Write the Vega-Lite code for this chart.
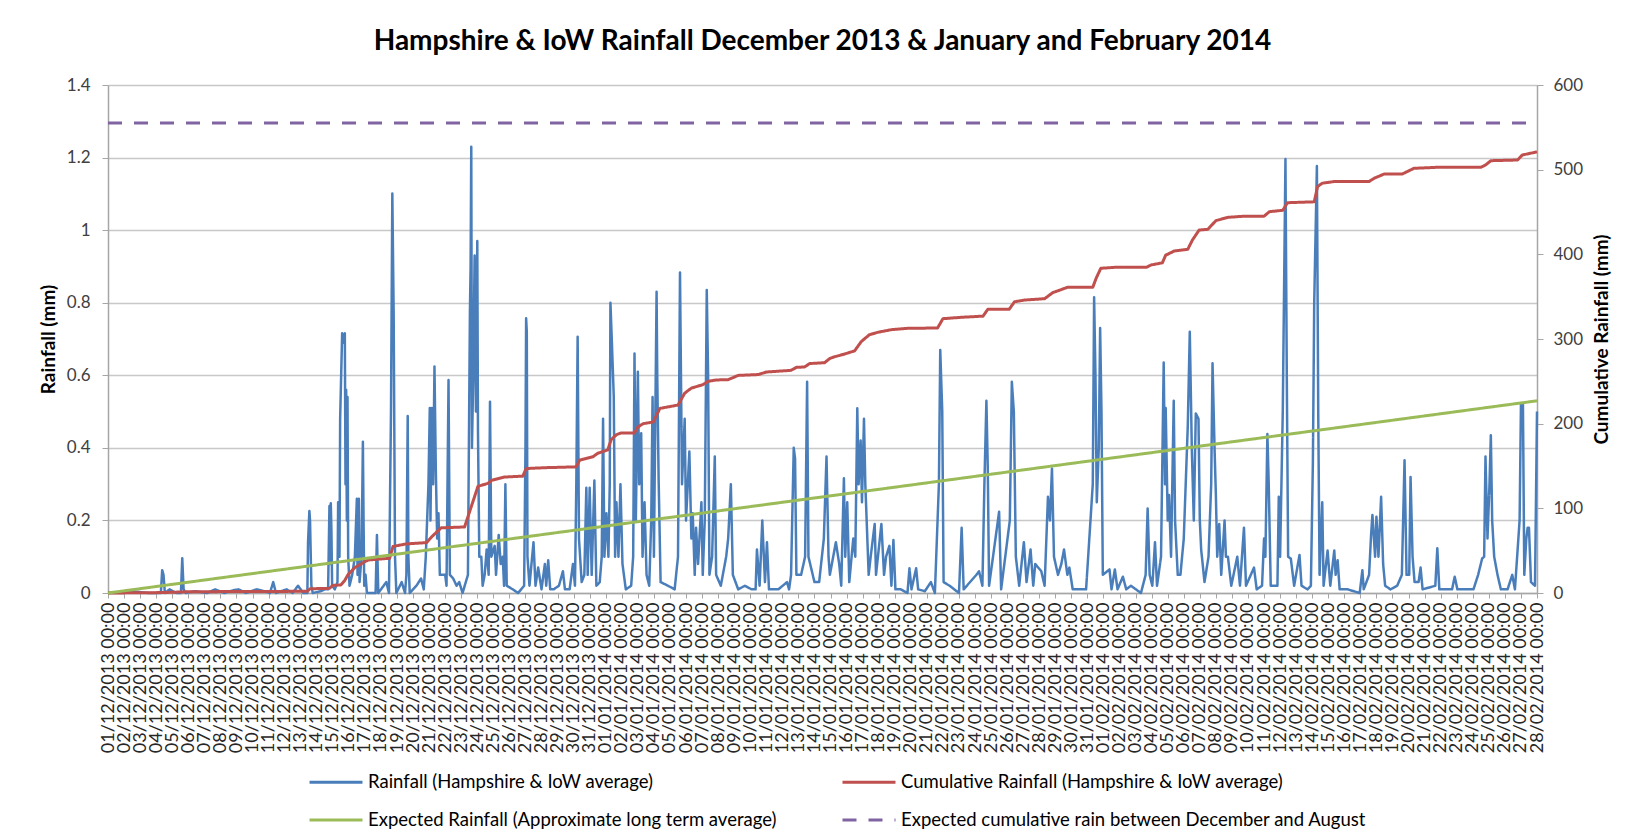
{
"$schema": "https://vega.github.io/schema/vega-lite/v6.json",
"autosize": "none",
"width": 1429,
"height": 508,
"padding": {"left": 108, "top": 85, "right": 101, "bottom": 247},
"background": "white",
"config": {
  "font": "Lato",
  "view": {"stroke": null},
  "legend": {"orient": "none", "legendX": 200, "legendY": 669, "columns": 2, "symbolType": "stroke", "symbolSize": 2809, "symbolStrokeWidth": 3, "labelFontSize": 18.5, "labelFont": "Lato", "labelColor": "#000000", "columnPadding": 59, "rowPadding": -17, "labelLimit": 0, "labelOffset": 4}
},
"title": {"text": "Hampshire & IoW Rainfall December 2013 & January and February 2014", "fontSize": 28, "fontWeight": "bold", "font": "Lato", "color": "#000000", "anchor": "middle", "offset": 20},
"datasets": {
"rain": [
{"t":"2013-12-01T00:00","v":0},{"t":"2013-12-02T12:00","v":0.005},{"t":"2013-12-03T12:00","v":0},{"t":"2013-12-04T07:00","v":0},{"t":"2013-12-04T09:00","v":0.063},{"t":"2013-12-04T11:00","v":0.05},{"t":"2013-12-04T13:00","v":0},{"t":"2013-12-04T20:00","v":0.01},{"t":"2013-12-05T06:00","v":0},{"t":"2013-12-05T13:00","v":0},{"t":"2013-12-05T15:00","v":0.096},{"t":"2013-12-05T17:00","v":0.01},{"t":"2013-12-05T20:00","v":0},{"t":"2013-12-06T10:00","v":0.005},{"t":"2013-12-07T04:00","v":0},{"t":"2013-12-07T16:00","v":0.01},{"t":"2013-12-08T06:00","v":0},{"t":"2013-12-08T20:00","v":0.008},{"t":"2013-12-09T03:00","v":0.01},{"t":"2013-12-09T14:00","v":0},{"t":"2013-12-10T06:00","v":0.01},{"t":"2013-12-10T18:00","v":0.005},{"t":"2013-12-11T02:00","v":0},{"t":"2013-12-11T07:00","v":0.03},{"t":"2013-12-11T11:00","v":0},{"t":"2013-12-12T03:00","v":0.01},{"t":"2013-12-12T12:00","v":0},{"t":"2013-12-12T20:00","v":0.02},{"t":"2013-12-13T04:00","v":0},{"t":"2013-12-13T10:00","v":0},{"t":"2013-12-13T11:00","v":0.14},{"t":"2013-12-13T13:00","v":0.226},{"t":"2013-12-13T14:00","v":0.2},{"t":"2013-12-13T16:00","v":0.02},{"t":"2013-12-13T18:00","v":0},{"t":"2013-12-14T06:00","v":0.005},{"t":"2013-12-14T12:00","v":0.01},{"t":"2013-12-14T17:00","v":0.01},{"t":"2013-12-14T19:00","v":0.24},{"t":"2013-12-14T20:00","v":0.08},{"t":"2013-12-14T21:00","v":0.247},{"t":"2013-12-14T22:00","v":0.17},{"t":"2013-12-14T23:00","v":0.02},{"t":"2013-12-15T03:00","v":0.01},{"t":"2013-12-15T07:00","v":0.03},{"t":"2013-12-15T08:00","v":0.25},{"t":"2013-12-15T10:00","v":0.1},{"t":"2013-12-15T11:00","v":0.48},{"t":"2013-12-15T14:00","v":0.716},{"t":"2013-12-15T16:00","v":0.69},{"t":"2013-12-15T18:00","v":0.716},{"t":"2013-12-15T19:00","v":0.3},{"t":"2013-12-15T20:00","v":0.56},{"t":"2013-12-15T21:00","v":0.2},{"t":"2013-12-15T22:00","v":0.54},{"t":"2013-12-15T23:00","v":0.1},{"t":"2013-12-16T01:00","v":0.02},{"t":"2013-12-16T05:00","v":0.05},{"t":"2013-12-16T09:00","v":0.1},{"t":"2013-12-16T12:00","v":0.26},{"t":"2013-12-16T13:00","v":0.05},{"t":"2013-12-16T15:00","v":0.26},{"t":"2013-12-16T16:00","v":0.03},{"t":"2013-12-16T19:00","v":0.1},{"t":"2013-12-16T21:00","v":0.417},{"t":"2013-12-16T22:00","v":0.2},{"t":"2013-12-16T23:00","v":0.02},{"t":"2013-12-17T01:00","v":0.05},{"t":"2013-12-17T03:00","v":0},{"t":"2013-12-17T16:00","v":0},{"t":"2013-12-17T18:00","v":0.16},{"t":"2013-12-17T20:00","v":0},{"t":"2013-12-18T08:00","v":0.03},{"t":"2013-12-18T12:00","v":0},{"t":"2013-12-18T15:00","v":0.5},{"t":"2013-12-18T17:00","v":1.101},{"t":"2013-12-18T19:00","v":0.77},{"t":"2013-12-18T21:00","v":0.1},{"t":"2013-12-18T23:00","v":0},{"t":"2013-12-19T07:00","v":0.03},{"t":"2013-12-19T12:00","v":0},{"t":"2013-12-19T14:00","v":0.05},{"t":"2013-12-19T16:00","v":0.488},{"t":"2013-12-19T17:00","v":0.1},{"t":"2013-12-19T19:00","v":0},{"t":"2013-12-20T05:00","v":0.02},{"t":"2013-12-20T12:00","v":0.04},{"t":"2013-12-20T16:00","v":0.01},{"t":"2013-12-20T19:00","v":0.1},{"t":"2013-12-20T23:00","v":0.3},{"t":"2013-12-21T01:00","v":0.51},{"t":"2013-12-21T02:00","v":0.2},{"t":"2013-12-21T04:00","v":0.51},{"t":"2013-12-21T06:00","v":0.3},{"t":"2013-12-21T08:00","v":0.624},{"t":"2013-12-21T10:00","v":0.34},{"t":"2013-12-21T12:00","v":0.15},{"t":"2013-12-21T14:00","v":0.22},{"t":"2013-12-21T16:00","v":0.05},{"t":"2013-12-22T00:00","v":0.05},{"t":"2013-12-22T02:00","v":0.02},{"t":"2013-12-22T05:00","v":0.587},{"t":"2013-12-22T07:00","v":0.05},{"t":"2013-12-22T12:00","v":0.04},{"t":"2013-12-22T17:00","v":0.02},{"t":"2013-12-22T21:00","v":0.03},{"t":"2013-12-23T02:00","v":0},{"t":"2013-12-23T10:00","v":0.05},{"t":"2013-12-23T11:00","v":0.3},{"t":"2013-12-23T13:00","v":0.78},{"t":"2013-12-23T14:00","v":0.9},{"t":"2013-12-23T15:00","v":1.23},{"t":"2013-12-23T16:00","v":0.4},{"t":"2013-12-23T18:00","v":0.6},{"t":"2013-12-23T20:00","v":0.93},{"t":"2013-12-23T22:00","v":0.5},{"t":"2013-12-24T00:00","v":0.97},{"t":"2013-12-24T01:00","v":0.45},{"t":"2013-12-24T03:00","v":0.1},{"t":"2013-12-24T06:00","v":0.1},{"t":"2013-12-24T08:00","v":0.02},{"t":"2013-12-24T11:00","v":0.05},{"t":"2013-12-24T14:00","v":0.12},{"t":"2013-12-24T17:00","v":0.05},{"t":"2013-12-24T19:00","v":0.527},{"t":"2013-12-24T21:00","v":0.1},{"t":"2013-12-25T02:00","v":0.13},{"t":"2013-12-25T04:00","v":0.05},{"t":"2013-12-25T08:00","v":0.16},{"t":"2013-12-25T11:00","v":0.08},{"t":"2013-12-25T14:00","v":0.1},{"t":"2013-12-25T16:00","v":0.02},{"t":"2013-12-25T18:00","v":0.3},{"t":"2013-12-25T20:00","v":0.02},{"t":"2013-12-26T05:00","v":0.01},{"t":"2013-12-26T13:00","v":0},{"t":"2013-12-26T22:00","v":0.02},{"t":"2013-12-27T00:00","v":0.4},{"t":"2013-12-27T01:00","v":0.757},{"t":"2013-12-27T02:00","v":0.72},{"t":"2013-12-27T03:00","v":0.1},{"t":"2013-12-27T06:00","v":0.02},{"t":"2013-12-27T12:00","v":0.14},{"t":"2013-12-27T15:00","v":0.02},{"t":"2013-12-27T19:00","v":0.07},{"t":"2013-12-28T00:00","v":0.01},{"t":"2013-12-28T05:00","v":0.08},{"t":"2013-12-28T07:00","v":0.02},{"t":"2013-12-28T10:00","v":0.09},{"t":"2013-12-28T13:00","v":0.01},{"t":"2013-12-28T18:00","v":0.01},{"t":"2013-12-29T02:00","v":0.02},{"t":"2013-12-29T08:00","v":0.06},{"t":"2013-12-29T11:00","v":0.01},{"t":"2013-12-29T18:00","v":0.01},{"t":"2013-12-29T23:00","v":0.08},{"t":"2013-12-30T02:00","v":0.02},{"t":"2013-12-30T04:00","v":0.3},{"t":"2013-12-30T06:00","v":0.706},{"t":"2013-12-30T08:00","v":0.15},{"t":"2013-12-30T12:00","v":0.03},{"t":"2013-12-30T16:00","v":0.05},{"t":"2013-12-30T19:00","v":0.29},{"t":"2013-12-30T21:00","v":0.05},{"t":"2013-12-31T00:00","v":0.29},{"t":"2013-12-31T03:00","v":0.05},{"t":"2013-12-31T07:00","v":0.31},{"t":"2013-12-31T10:00","v":0.02},{"t":"2013-12-31T15:00","v":0.03},{"t":"2013-12-31T18:00","v":0.1},{"t":"2013-12-31T20:00","v":0.48},{"t":"2013-12-31T22:00","v":0.1},
{"t":"2014-01-01T01:00","v":0.22},{"t":"2014-01-01T04:00","v":0.1},{"t":"2014-01-01T06:00","v":0.3},{"t":"2014-01-01T07:00","v":0.8},{"t":"2014-01-01T09:00","v":0.7},{"t":"2014-01-01T12:00","v":0.54},{"t":"2014-01-01T14:00","v":0.1},{"t":"2014-01-01T16:00","v":0.25},{"t":"2014-01-01T19:00","v":0.1},{"t":"2014-01-01T22:00","v":0.3},{"t":"2014-01-02T01:00","v":0.08},{"t":"2014-01-02T06:00","v":0.01},{"t":"2014-01-02T14:00","v":0.02},{"t":"2014-01-02T17:00","v":0.1},{"t":"2014-01-02T19:00","v":0.66},{"t":"2014-01-02T21:00","v":0.2},{"t":"2014-01-03T00:00","v":0.61},{"t":"2014-01-03T02:00","v":0.3},{"t":"2014-01-03T05:00","v":0.44},{"t":"2014-01-03T07:00","v":0.1},{"t":"2014-01-03T10:00","v":0.25},{"t":"2014-01-03T13:00","v":0.05},{"t":"2014-01-03T17:00","v":0.02},{"t":"2014-01-03T20:00","v":0.2},{"t":"2014-01-03T22:00","v":0.54},{"t":"2014-01-04T00:00","v":0.1},{"t":"2014-01-04T04:00","v":0.83},{"t":"2014-01-04T05:00","v":0.6},{"t":"2014-01-04T07:00","v":0.32},{"t":"2014-01-04T10:00","v":0.03},{"t":"2014-01-04T21:00","v":0.02},{"t":"2014-01-05T07:00","v":0.01},{"t":"2014-01-05T12:00","v":0.1},{"t":"2014-01-05T15:00","v":0.883},{"t":"2014-01-05T18:00","v":0.3},{"t":"2014-01-05T22:00","v":0.48},{"t":"2014-01-06T00:00","v":0.2},{"t":"2014-01-06T05:00","v":0.39},{"t":"2014-01-06T08:00","v":0.15},{"t":"2014-01-06T10:00","v":0.22},{"t":"2014-01-06T13:00","v":0.05},{"t":"2014-01-06T15:00","v":0.18},{"t":"2014-01-06T18:00","v":0.08},{"t":"2014-01-06T23:00","v":0.25},{"t":"2014-01-07T01:00","v":0.05},{"t":"2014-01-07T04:00","v":0.2},{"t":"2014-01-07T07:00","v":0.835},{"t":"2014-01-07T09:00","v":0.6},{"t":"2014-01-07T11:00","v":0.05},{"t":"2014-01-07T15:00","v":0.1},{"t":"2014-01-07T19:00","v":0.376},{"t":"2014-01-07T21:00","v":0.05},{"t":"2014-01-08T04:00","v":0.02},{"t":"2014-01-08T12:00","v":0.1},{"t":"2014-01-08T15:00","v":0.15},{"t":"2014-01-08T19:00","v":0.3},{"t":"2014-01-08T22:00","v":0.05},{"t":"2014-01-09T06:00","v":0.01},{"t":"2014-01-09T16:00","v":0.02},{"t":"2014-01-10T02:00","v":0.01},{"t":"2014-01-10T08:00","v":0.01},{"t":"2014-01-10T10:00","v":0.12},{"t":"2014-01-10T14:00","v":0.02},{"t":"2014-01-10T18:00","v":0.2},{"t":"2014-01-10T22:00","v":0.03},{"t":"2014-01-11T01:00","v":0.14},{"t":"2014-01-11T04:00","v":0.01},{"t":"2014-01-11T18:00","v":0.01},{"t":"2014-01-12T07:00","v":0.03},{"t":"2014-01-12T10:00","v":0.01},{"t":"2014-01-12T13:00","v":0.05},{"t":"2014-01-12T17:00","v":0.4},{"t":"2014-01-12T19:00","v":0.37},{"t":"2014-01-12T21:00","v":0.05},{"t":"2014-01-13T04:00","v":0.05},{"t":"2014-01-13T10:00","v":0.1},{"t":"2014-01-13T13:00","v":0.582},{"t":"2014-01-13T15:00","v":0.1},{"t":"2014-01-14T00:00","v":0.03},{"t":"2014-01-14T07:00","v":0.03},{"t":"2014-01-14T14:00","v":0.15},{"t":"2014-01-14T18:00","v":0.376},{"t":"2014-01-14T21:00","v":0.1},{"t":"2014-01-14T23:00","v":0.05},{"t":"2014-01-15T04:00","v":0.1},{"t":"2014-01-15T08:00","v":0.14},{"t":"2014-01-15T13:00","v":0.08},{"t":"2014-01-15T16:00","v":0.02},{"t":"2014-01-15T20:00","v":0.316},{"t":"2014-01-15T22:00","v":0.1},{"t":"2014-01-16T01:00","v":0.25},{"t":"2014-01-16T04:00","v":0.03},{"t":"2014-01-16T10:00","v":0.15},{"t":"2014-01-16T13:00","v":0.1},{"t":"2014-01-16T16:00","v":0.509},{"t":"2014-01-16T18:00","v":0.3},{"t":"2014-01-16T21:00","v":0.42},{"t":"2014-01-16T23:00","v":0.25},{"t":"2014-01-17T02:00","v":0.48},{"t":"2014-01-17T04:00","v":0.3},{"t":"2014-01-17T06:00","v":0.2},{"t":"2014-01-17T09:00","v":0.05},{"t":"2014-01-17T12:00","v":0.1},{"t":"2014-01-17T18:00","v":0.19},{"t":"2014-01-17T20:00","v":0.05},{"t":"2014-01-18T00:00","v":0.12},{"t":"2014-01-18T04:00","v":0.19},{"t":"2014-01-18T08:00","v":0.05},{"t":"2014-01-18T11:00","v":0.1},{"t":"2014-01-18T16:00","v":0.13},{"t":"2014-01-18T19:00","v":0.02},{"t":"2014-01-18T22:00","v":0.146},{"t":"2014-01-19T01:00","v":0.01},{"t":"2014-01-19T09:00","v":0.01},{"t":"2014-01-19T19:00","v":0},{"t":"2014-01-19T22:00","v":0.068},{"t":"2014-01-20T01:00","v":0.01},{"t":"2014-01-20T08:00","v":0.068},{"t":"2014-01-20T11:00","v":0.01},{"t":"2014-01-20T21:00","v":0.005},{"t":"2014-01-21T06:00","v":0.03},{"t":"2014-01-21T12:00","v":0},{"t":"2014-01-21T18:00","v":0.3},{"t":"2014-01-21T20:00","v":0.67},{"t":"2014-01-21T23:00","v":0.5},{"t":"2014-01-22T01:00","v":0.03},{"t":"2014-01-22T10:00","v":0.02},{"t":"2014-01-23T00:00","v":0},{"t":"2014-01-23T04:00","v":0.18},{"t":"2014-01-23T07:00","v":0.01},{"t":"2014-01-24T02:00","v":0.05},{"t":"2014-01-24T06:00","v":0.06},{"t":"2014-01-24T11:00","v":0.02},{"t":"2014-01-24T14:00","v":0.3},{"t":"2014-01-24T17:00","v":0.53},{"t":"2014-01-24T19:00","v":0.35},{"t":"2014-01-24T21:00","v":0.02},{"t":"2014-01-25T12:00","v":0.224},{"t":"2014-01-25T15:00","v":0.01},{"t":"2014-01-26T04:00","v":0.2},{"t":"2014-01-26T07:00","v":0.582},{"t":"2014-01-26T10:00","v":0.5},{"t":"2014-01-26T13:00","v":0.1},{"t":"2014-01-26T18:00","v":0.02},{"t":"2014-01-27T01:00","v":0.14},{"t":"2014-01-27T05:00","v":0.03},{"t":"2014-01-27T11:00","v":0.12},{"t":"2014-01-27T15:00","v":0.02},{"t":"2014-01-27T18:00","v":0.08},{"t":"2014-01-28T03:00","v":0.06},{"t":"2014-01-28T08:00","v":0.02},{"t":"2014-01-28T13:00","v":0.265},{"t":"2014-01-28T16:00","v":0.2},{"t":"2014-01-28T19:00","v":0.343},{"t":"2014-01-28T22:00","v":0.1},{"t":"2014-01-29T04:00","v":0.05},{"t":"2014-01-29T09:00","v":0.08},{"t":"2014-01-29T13:00","v":0.12},{"t":"2014-01-29T18:00","v":0.05},{"t":"2014-01-29T21:00","v":0.07},{"t":"2014-01-30T02:00","v":0.01},{"t":"2014-01-30T12:00","v":0.01},{"t":"2014-01-30T22:00","v":0.01},{"t":"2014-01-31T08:00","v":0.3},{"t":"2014-01-31T10:00","v":0.815},{"t":"2014-01-31T12:00","v":0.6},{"t":"2014-01-31T14:00","v":0.25},{"t":"2014-01-31T17:00","v":0.4},{"t":"2014-01-31T19:00","v":0.73},{"t":"2014-01-31T21:00","v":0.5},{"t":"2014-01-31T23:00","v":0.05},
{"t":"2014-02-01T09:00","v":0.065},{"t":"2014-02-01T12:00","v":0.01},{"t":"2014-02-01T17:00","v":0.065},{"t":"2014-02-01T21:00","v":0.01},{"t":"2014-02-02T05:00","v":0.045},{"t":"2014-02-02T10:00","v":0.01},{"t":"2014-02-02T17:00","v":0.02},{"t":"2014-02-03T08:00","v":0},{"t":"2014-02-03T15:00","v":0.05},{"t":"2014-02-03T18:00","v":0.233},{"t":"2014-02-03T21:00","v":0.05},{"t":"2014-02-04T01:00","v":0.02},{"t":"2014-02-04T05:00","v":0.14},{"t":"2014-02-04T08:00","v":0.02},{"t":"2014-02-04T14:00","v":0.1},{"t":"2014-02-04T18:00","v":0.635},{"t":"2014-02-04T20:00","v":0.3},{"t":"2014-02-04T21:00","v":0.51},{"t":"2014-02-05T00:00","v":0.2},{"t":"2014-02-05T02:00","v":0.27},{"t":"2014-02-05T05:00","v":0.1},{"t":"2014-02-05T09:00","v":0.53},{"t":"2014-02-05T11:00","v":0.2},{"t":"2014-02-05T15:00","v":0.05},{"t":"2014-02-05T19:00","v":0.05},{"t":"2014-02-06T00:00","v":0.15},{"t":"2014-02-06T06:00","v":0.46},{"t":"2014-02-06T09:00","v":0.72},{"t":"2014-02-06T12:00","v":0.4},{"t":"2014-02-06T15:00","v":0.2},{"t":"2014-02-06T18:00","v":0.495},{"t":"2014-02-06T22:00","v":0.48},{"t":"2014-02-07T00:00","v":0.2},{"t":"2014-02-07T02:00","v":0.12},{"t":"2014-02-07T07:00","v":0.03},{"t":"2014-02-07T13:00","v":0.1},{"t":"2014-02-07T17:00","v":0.3},{"t":"2014-02-07T19:00","v":0.633},{"t":"2014-02-07T22:00","v":0.4},{"t":"2014-02-08T00:00","v":0.27},{"t":"2014-02-08T02:00","v":0.1},{"t":"2014-02-08T05:00","v":0.19},{"t":"2014-02-08T08:00","v":0.05},{"t":"2014-02-08T13:00","v":0.2},{"t":"2014-02-08T15:00","v":0.1},{"t":"2014-02-08T18:00","v":0.1},{"t":"2014-02-08T23:00","v":0.02},{"t":"2014-02-09T08:00","v":0.1},{"t":"2014-02-09T12:00","v":0.02},{"t":"2014-02-09T18:00","v":0.18},{"t":"2014-02-09T21:00","v":0.02},{"t":"2014-02-10T09:00","v":0.07},{"t":"2014-02-10T13:00","v":0.01},{"t":"2014-02-10T21:00","v":0.02},{"t":"2014-02-11T00:00","v":0.15},{"t":"2014-02-11T02:00","v":0.1},{"t":"2014-02-11T05:00","v":0.438},{"t":"2014-02-11T07:00","v":0.3},{"t":"2014-02-11T10:00","v":0.02},{"t":"2014-02-11T20:00","v":0.02},{"t":"2014-02-11T22:00","v":0.265},{"t":"2014-02-12T00:00","v":0.1},{"t":"2014-02-12T04:00","v":0.5},{"t":"2014-02-12T08:00","v":1.196},{"t":"2014-02-12T10:00","v":0.6},{"t":"2014-02-12T12:00","v":0.1},{"t":"2014-02-12T16:00","v":0.095},{"t":"2014-02-12T21:00","v":0.02},{"t":"2014-02-13T05:00","v":0.105},{"t":"2014-02-13T08:00","v":0.02},{"t":"2014-02-13T17:00","v":0.01},{"t":"2014-02-13T22:00","v":0.02},{"t":"2014-02-14T01:00","v":0.36},{"t":"2014-02-14T03:00","v":0.8},{"t":"2014-02-14T07:00","v":1.177},{"t":"2014-02-14T09:00","v":0.5},{"t":"2014-02-14T11:00","v":0.05},{"t":"2014-02-14T15:00","v":0.25},{"t":"2014-02-14T17:00","v":0.02},{"t":"2014-02-14T23:00","v":0.117},{"t":"2014-02-15T03:00","v":0.02},{"t":"2014-02-15T09:00","v":0.117},{"t":"2014-02-15T11:00","v":0.05},{"t":"2014-02-15T14:00","v":0.09},{"t":"2014-02-15T17:00","v":0.01},{"t":"2014-02-16T05:00","v":0.01},{"t":"2014-02-16T23:00","v":0},{"t":"2014-02-17T03:00","v":0.063},{"t":"2014-02-17T05:00","v":0.01},{"t":"2014-02-17T13:00","v":0.05},{"t":"2014-02-17T16:00","v":0.16},{"t":"2014-02-17T18:00","v":0.215},{"t":"2014-02-17T22:00","v":0.1},{"t":"2014-02-18T00:00","v":0.21},{"t":"2014-02-18T03:00","v":0.1},{"t":"2014-02-18T07:00","v":0.265},{"t":"2014-02-18T10:00","v":0.08},{"t":"2014-02-18T13:00","v":0.02},{"t":"2014-02-18T21:00","v":0.01},{"t":"2014-02-19T07:00","v":0.02},{"t":"2014-02-19T14:00","v":0.05},{"t":"2014-02-19T18:00","v":0.366},{"t":"2014-02-19T21:00","v":0.05},{"t":"2014-02-20T01:00","v":0.05},{"t":"2014-02-20T03:00","v":0.32},{"t":"2014-02-20T06:00","v":0.1},{"t":"2014-02-20T09:00","v":0.03},{"t":"2014-02-20T15:00","v":0.03},{"t":"2014-02-20T18:00","v":0.07},{"t":"2014-02-20T21:00","v":0.01},{"t":"2014-02-21T16:00","v":0.02},{"t":"2014-02-21T19:00","v":0.123},{"t":"2014-02-21T22:00","v":0.01},{"t":"2014-02-22T17:00","v":0.01},{"t":"2014-02-22T21:00","v":0.045},{"t":"2014-02-23T01:00","v":0.01},{"t":"2014-02-24T01:00","v":0.01},{"t":"2014-02-24T08:00","v":0.05},{"t":"2014-02-24T14:00","v":0.095},{"t":"2014-02-24T17:00","v":0.1},{"t":"2014-02-24T19:00","v":0.376},{"t":"2014-02-24T22:00","v":0.15},{"t":"2014-02-25T01:00","v":0.3},{"t":"2014-02-25T03:00","v":0.435},{"t":"2014-02-25T05:00","v":0.2},{"t":"2014-02-25T08:00","v":0.1},{"t":"2014-02-25T13:00","v":0.05},{"t":"2014-02-25T18:00","v":0.01},{"t":"2014-02-26T04:00","v":0.01},{"t":"2014-02-26T11:00","v":0.05},{"t":"2014-02-26T15:00","v":0.01},{"t":"2014-02-26T22:00","v":0.2},{"t":"2014-02-27T00:00","v":0.52},{"t":"2014-02-27T03:00","v":0.52},{"t":"2014-02-27T05:00","v":0.05},{"t":"2014-02-27T08:00","v":0.15},{"t":"2014-02-27T10:00","v":0.18},{"t":"2014-02-27T12:00","v":0.18},{"t":"2014-02-27T15:00","v":0.03},{"t":"2014-02-27T21:00","v":0.02},{"t":"2014-02-28T00:00","v":0.5}
],
"cum": [
{"s":"Cumulative Rainfall (Hampshire & IoW average)","t":"2013-12-01T00:00","v":0},{"s":"Cumulative Rainfall (Hampshire & IoW average)","t":"2013-12-04T10:00","v":0.5},{"s":"Cumulative Rainfall (Hampshire & IoW average)","t":"2013-12-06T00:00","v":1.5},{"s":"Cumulative Rainfall (Hampshire & IoW average)","t":"2013-12-13T10:00","v":2},{"s":"Cumulative Rainfall (Hampshire & IoW average)","t":"2013-12-13T14:00","v":5},{"s":"Cumulative Rainfall (Hampshire & IoW average)","t":"2013-12-14T19:00","v":5.5},{"s":"Cumulative Rainfall (Hampshire & IoW average)","t":"2013-12-15T00:00","v":9},{"s":"Cumulative Rainfall (Hampshire & IoW average)","t":"2013-12-15T12:00","v":9.5},{"s":"Cumulative Rainfall (Hampshire & IoW average)","t":"2013-12-15T18:00","v":15},{"s":"Cumulative Rainfall (Hampshire & IoW average)","t":"2013-12-15T23:00","v":22},{"s":"Cumulative Rainfall (Hampshire & IoW average)","t":"2013-12-16T09:00","v":30},{"s":"Cumulative Rainfall (Hampshire & IoW average)","t":"2013-12-17T00:00","v":37},{"s":"Cumulative Rainfall (Hampshire & IoW average)","t":"2013-12-17T05:00","v":39},{"s":"Cumulative Rainfall (Hampshire & IoW average)","t":"2013-12-18T13:00","v":41},{"s":"Cumulative Rainfall (Hampshire & IoW average)","t":"2013-12-18T18:00","v":55},{"s":"Cumulative Rainfall (Hampshire & IoW average)","t":"2013-12-19T14:00","v":58},{"s":"Cumulative Rainfall (Hampshire & IoW average)","t":"2013-12-20T20:00","v":59.5},{"s":"Cumulative Rainfall (Hampshire & IoW average)","t":"2013-12-21T04:00","v":66.5},{"s":"Cumulative Rainfall (Hampshire & IoW average)","t":"2013-12-21T18:00","v":77},{"s":"Cumulative Rainfall (Hampshire & IoW average)","t":"2013-12-23T05:00","v":78},{"s":"Cumulative Rainfall (Hampshire & IoW average)","t":"2013-12-23T10:00","v":90},{"s":"Cumulative Rainfall (Hampshire & IoW average)","t":"2013-12-24T01:00","v":126},{"s":"Cumulative Rainfall (Hampshire & IoW average)","t":"2013-12-24T16:00","v":129.5},{"s":"Cumulative Rainfall (Hampshire & IoW average)","t":"2013-12-24T21:00","v":133},{"s":"Cumulative Rainfall (Hampshire & IoW average)","t":"2013-12-25T17:00","v":137},{"s":"Cumulative Rainfall (Hampshire & IoW average)","t":"2013-12-26T20:00","v":138},{"s":"Cumulative Rainfall (Hampshire & IoW average)","t":"2013-12-27T01:00","v":147},{"s":"Cumulative Rainfall (Hampshire & IoW average)","t":"2013-12-28T05:00","v":148},{"s":"Cumulative Rainfall (Hampshire & IoW average)","t":"2013-12-30T04:00","v":149},{"s":"Cumulative Rainfall (Hampshire & IoW average)","t":"2013-12-30T09:00","v":157},{"s":"Cumulative Rainfall (Hampshire & IoW average)","t":"2013-12-31T05:00","v":161},{"s":"Cumulative Rainfall (Hampshire & IoW average)","t":"2013-12-31T12:00","v":165},{"s":"Cumulative Rainfall (Hampshire & IoW average)","t":"2014-01-01T03:00","v":169},{"s":"Cumulative Rainfall (Hampshire & IoW average)","t":"2014-01-01T08:00","v":181},{"s":"Cumulative Rainfall (Hampshire & IoW average)","t":"2014-01-01T16:00","v":187},{"s":"Cumulative Rainfall (Hampshire & IoW average)","t":"2014-01-01T23:00","v":189},{"s":"Cumulative Rainfall (Hampshire & IoW average)","t":"2014-01-02T19:00","v":189},{"s":"Cumulative Rainfall (Hampshire & IoW average)","t":"2014-01-03T00:00","v":196},{"s":"Cumulative Rainfall (Hampshire & IoW average)","t":"2014-01-03T08:00","v":200},{"s":"Cumulative Rainfall (Hampshire & IoW average)","t":"2014-01-03T23:00","v":202},{"s":"Cumulative Rainfall (Hampshire & IoW average)","t":"2014-01-04T09:00","v":218},{"s":"Cumulative Rainfall (Hampshire & IoW average)","t":"2014-01-05T12:00","v":222},{"s":"Cumulative Rainfall (Hampshire & IoW average)","t":"2014-01-05T22:00","v":236},{"s":"Cumulative Rainfall (Hampshire & IoW average)","t":"2014-01-06T08:00","v":242},{"s":"Cumulative Rainfall (Hampshire & IoW average)","t":"2014-01-07T01:00","v":246},{"s":"Cumulative Rainfall (Hampshire & IoW average)","t":"2014-01-07T09:00","v":250},{"s":"Cumulative Rainfall (Hampshire & IoW average)","t":"2014-01-07T21:00","v":251.6},{"s":"Cumulative Rainfall (Hampshire & IoW average)","t":"2014-01-08T15:00","v":252},{"s":"Cumulative Rainfall (Hampshire & IoW average)","t":"2014-01-09T06:00","v":257},{"s":"Cumulative Rainfall (Hampshire & IoW average)","t":"2014-01-10T12:00","v":258},{"s":"Cumulative Rainfall (Hampshire & IoW average)","t":"2014-01-11T00:00","v":261},{"s":"Cumulative Rainfall (Hampshire & IoW average)","t":"2014-01-12T13:00","v":263},{"s":"Cumulative Rainfall (Hampshire & IoW average)","t":"2014-01-12T21:00","v":266.5},{"s":"Cumulative Rainfall (Hampshire & IoW average)","t":"2014-01-13T09:00","v":267},{"s":"Cumulative Rainfall (Hampshire & IoW average)","t":"2014-01-13T17:00","v":271},{"s":"Cumulative Rainfall (Hampshire & IoW average)","t":"2014-01-14T15:00","v":272},{"s":"Cumulative Rainfall (Hampshire & IoW average)","t":"2014-01-14T23:00","v":277},{"s":"Cumulative Rainfall (Hampshire & IoW average)","t":"2014-01-15T06:00","v":279},{"s":"Cumulative Rainfall (Hampshire & IoW average)","t":"2014-01-15T20:00","v":282},{"s":"Cumulative Rainfall (Hampshire & IoW average)","t":"2014-01-16T12:00","v":286},{"s":"Cumulative Rainfall (Hampshire & IoW average)","t":"2014-01-16T22:00","v":297},{"s":"Cumulative Rainfall (Hampshire & IoW average)","t":"2014-01-17T10:00","v":305},{"s":"Cumulative Rainfall (Hampshire & IoW average)","t":"2014-01-17T23:00","v":308},{"s":"Cumulative Rainfall (Hampshire & IoW average)","t":"2014-01-18T19:00","v":311},{"s":"Cumulative Rainfall (Hampshire & IoW average)","t":"2014-01-19T19:00","v":312.6},{"s":"Cumulative Rainfall (Hampshire & IoW average)","t":"2014-01-21T16:00","v":313},{"s":"Cumulative Rainfall (Hampshire & IoW average)","t":"2014-01-22T00:00","v":324},{"s":"Cumulative Rainfall (Hampshire & IoW average)","t":"2014-01-23T03:00","v":325.6},{"s":"Cumulative Rainfall (Hampshire & IoW average)","t":"2014-01-24T12:00","v":327},{"s":"Cumulative Rainfall (Hampshire & IoW average)","t":"2014-01-24T19:00","v":335},{"s":"Cumulative Rainfall (Hampshire & IoW average)","t":"2014-01-26T03:00","v":335},{"s":"Cumulative Rainfall (Hampshire & IoW average)","t":"2014-01-26T11:00","v":344},{"s":"Cumulative Rainfall (Hampshire & IoW average)","t":"2014-01-27T02:00","v":346},{"s":"Cumulative Rainfall (Hampshire & IoW average)","t":"2014-01-28T08:00","v":347.6},{"s":"Cumulative Rainfall (Hampshire & IoW average)","t":"2014-01-28T20:00","v":354.7},{"s":"Cumulative Rainfall (Hampshire & IoW average)","t":"2014-01-29T18:00","v":361},{"s":"Cumulative Rainfall (Hampshire & IoW average)","t":"2014-01-31T08:00","v":361},{"s":"Cumulative Rainfall (Hampshire & IoW average)","t":"2014-01-31T13:00","v":371.7},{"s":"Cumulative Rainfall (Hampshire & IoW average)","t":"2014-01-31T20:00","v":383.5},{"s":"Cumulative Rainfall (Hampshire & IoW average)","t":"2014-02-01T16:00","v":384.6},{"s":"Cumulative Rainfall (Hampshire & IoW average)","t":"2014-02-03T16:00","v":384.6},{"s":"Cumulative Rainfall (Hampshire & IoW average)","t":"2014-02-03T23:00","v":387.4},{"s":"Cumulative Rainfall (Hampshire & IoW average)","t":"2014-02-04T16:00","v":390},{"s":"Cumulative Rainfall (Hampshire & IoW average)","t":"2014-02-04T21:00","v":399},{"s":"Cumulative Rainfall (Hampshire & IoW average)","t":"2014-02-05T10:00","v":404},{"s":"Cumulative Rainfall (Hampshire & IoW average)","t":"2014-02-06T06:00","v":406},{"s":"Cumulative Rainfall (Hampshire & IoW average)","t":"2014-02-06T13:00","v":417},{"s":"Cumulative Rainfall (Hampshire & IoW average)","t":"2014-02-06T23:00","v":428.7},{"s":"Cumulative Rainfall (Hampshire & IoW average)","t":"2014-02-07T12:00","v":429.5},{"s":"Cumulative Rainfall (Hampshire & IoW average)","t":"2014-02-08T00:00","v":439.8},{"s":"Cumulative Rainfall (Hampshire & IoW average)","t":"2014-02-08T18:00","v":443.7},{"s":"Cumulative Rainfall (Hampshire & IoW average)","t":"2014-02-09T18:00","v":445},{"s":"Cumulative Rainfall (Hampshire & IoW average)","t":"2014-02-11T00:00","v":445},{"s":"Cumulative Rainfall (Hampshire & IoW average)","t":"2014-02-11T08:00","v":450.4},{"s":"Cumulative Rainfall (Hampshire & IoW average)","t":"2014-02-12T04:00","v":452},{"s":"Cumulative Rainfall (Hampshire & IoW average)","t":"2014-02-12T11:00","v":461},{"s":"Cumulative Rainfall (Hampshire & IoW average)","t":"2014-02-14T03:00","v":462},{"s":"Cumulative Rainfall (Hampshire & IoW average)","t":"2014-02-14T08:00","v":480},{"s":"Cumulative Rainfall (Hampshire & IoW average)","t":"2014-02-14T15:00","v":484},{"s":"Cumulative Rainfall (Hampshire & IoW average)","t":"2014-02-15T09:00","v":486},{"s":"Cumulative Rainfall (Hampshire & IoW average)","t":"2014-02-17T13:00","v":486},{"s":"Cumulative Rainfall (Hampshire & IoW average)","t":"2014-02-17T21:00","v":490},{"s":"Cumulative Rainfall (Hampshire & IoW average)","t":"2014-02-18T12:00","v":495},{"s":"Cumulative Rainfall (Hampshire & IoW average)","t":"2014-02-19T15:00","v":495},{"s":"Cumulative Rainfall (Hampshire & IoW average)","t":"2014-02-20T08:00","v":501.6},{"s":"Cumulative Rainfall (Hampshire & IoW average)","t":"2014-02-21T19:00","v":502.8},{"s":"Cumulative Rainfall (Hampshire & IoW average)","t":"2014-02-24T12:00","v":502.8},{"s":"Cumulative Rainfall (Hampshire & IoW average)","t":"2014-02-24T19:00","v":505.5},{"s":"Cumulative Rainfall (Hampshire & IoW average)","t":"2014-02-25T03:00","v":510.6},{"s":"Cumulative Rainfall (Hampshire & IoW average)","t":"2014-02-26T19:00","v":511.4},{"s":"Cumulative Rainfall (Hampshire & IoW average)","t":"2014-02-27T02:00","v":517.3},{"s":"Cumulative Rainfall (Hampshire & IoW average)","t":"2014-02-28T00:00","v":521},
{"s":"Expected Rainfall (Approximate long term average)","t":"2013-12-01T00:00","v":0},{"s":"Expected Rainfall (Approximate long term average)","t":"2014-02-28T00:00","v":227},
{"s":"Expected cumulative rain between December and August","t":"2013-12-01T00:00","v":555},{"s":"Expected cumulative rain between December and August","t":"2014-02-28T00:00","v":555}
]
},
"layer": [
{
  "data": {"name": "rain"},
  "mark": {"type": "line", "strokeWidth": 2.5, "strokeJoin": "round"},
  "encoding": {
    "x": {"field": "t", "type": "temporal",
      "scale": {"domain": ["2013-12-01T00:00", "2014-02-28T00:00"]},
      "axis": {"title": null, "format": "%d/%m/%Y %H:%M", "labelAngle": 270, "labelFontSize": 18, "labelColor": "#262626", "labelOverlap": false, "labelFlush": false, "labelBound": false, "tickCount": {"interval": "day", "step": 1}, "grid": false, "domainColor": "#a6a6a6", "domainWidth": 1.5, "tickColor": "#a6a6a6", "tickSize": 5, "labelPadding": 4}},
    "y": {"field": "v", "type": "quantitative",
      "scale": {"domain": [0, 1.4], "nice": false},
      "axis": {"title": "Rainfall (mm)", "titleFontSize": 19, "titleFontWeight": "bold", "titleColor": "#000000", "titlePadding": 8, "values": [0, 0.2, 0.4, 0.6, 0.8, 1, 1.2, 1.4], "format": ".1~f", "labelFontSize": 17, "labelColor": "#404040", "labelPadding": 12, "tickSize": 6, "tickColor": "#a6a6a6", "domainColor": "#a6a6a6", "domainWidth": 1.5, "grid": true, "gridColor": "#c8c8c8", "gridWidth": 1.5}},
    "color": {"datum": "Rainfall (Hampshire & IoW average)", "type": "nominal",
      "scale": {"domain": ["Rainfall (Hampshire & IoW average)", "Expected Rainfall (Approximate long term average)", "Cumulative Rainfall (Hampshire & IoW average)", "Expected cumulative rain between December and August"], "range": ["#4a7ebb", "#9bbb59", "#c0504d", "#8064a2"]},
      "legend": {"title": null}},
    "strokeDash": {"datum": "Rainfall (Hampshire & IoW average)", "type": "nominal",
      "scale": {"domain": ["Rainfall (Hampshire & IoW average)", "Expected Rainfall (Approximate long term average)", "Cumulative Rainfall (Hampshire & IoW average)", "Expected cumulative rain between December and August"], "range": [[1, 0], [1, 0], [1, 0], [14, 12]]},
      "legend": {"title": null}}
  }
},
{
  "data": {"name": "cum"},
  "mark": {"type": "line", "strokeWidth": 3, "strokeJoin": "round"},
  "encoding": {
    "x": {"field": "t", "type": "temporal"},
    "y": {"field": "v", "type": "quantitative",
      "scale": {"domain": [0, 600], "nice": false},
      "axis": {"orient": "right", "title": "Cumulative Rainfall (mm)", "titleAngle": 270, "titleBaseline": "top", "titleFontSize": 19, "titleFontWeight": "bold", "titleColor": "#000000", "titlePadding": 10, "values": [0, 100, 200, 300, 400, 500, 600], "labelFontSize": 17, "labelColor": "#404040", "labelPadding": 10, "tickSize": 6, "tickColor": "#a6a6a6", "domainColor": "#a6a6a6", "domainWidth": 1.5, "grid": false}},
    "color": {"field": "s", "type": "nominal", "legend": {"title": null}},
    "strokeDash": {"field": "s", "type": "nominal", "legend": {"title": null}}
  }
}
],
"resolve": {"scale": {"y": "independent"}}
}
